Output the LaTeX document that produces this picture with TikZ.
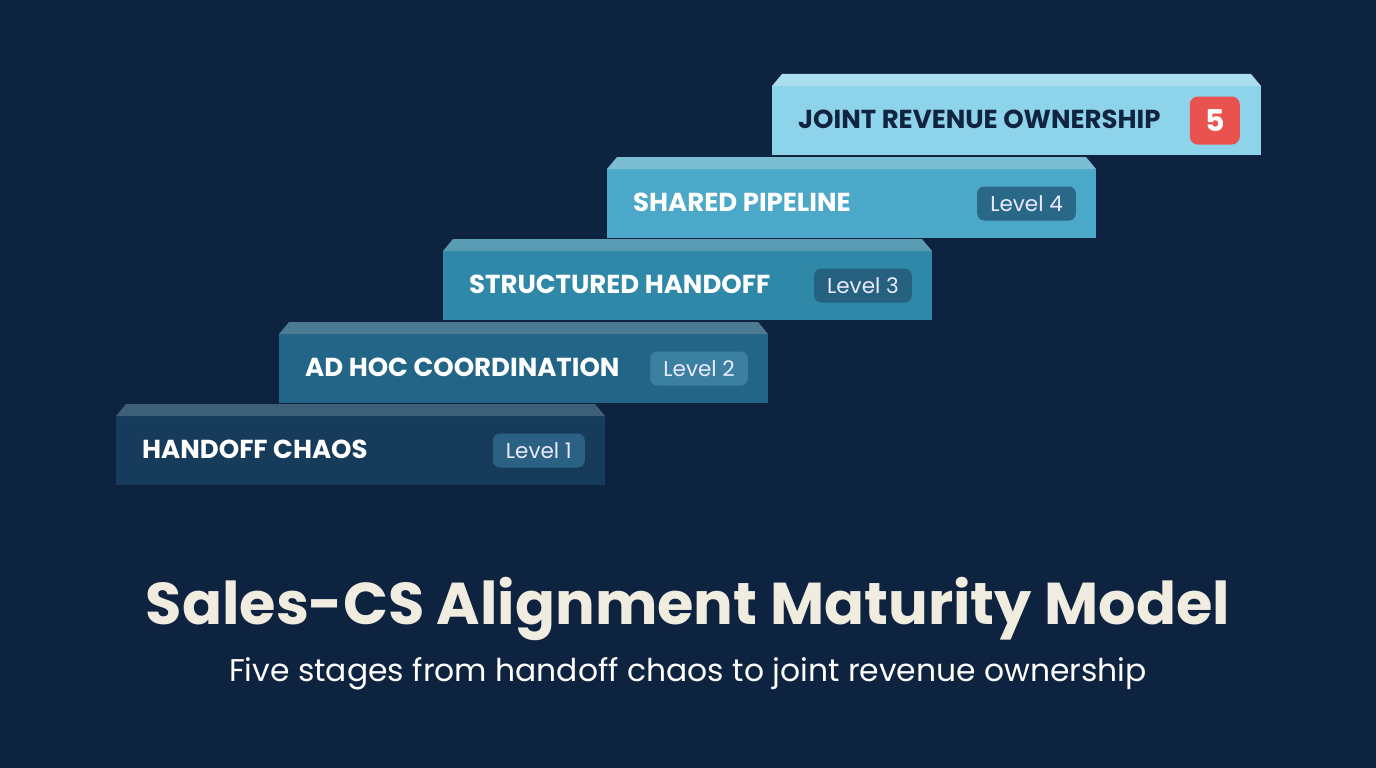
\documentclass[tikz,border=0pt]{standalone}
\usepackage{fontspec}
\setmainfont{Poppins}
\definecolor{bg}{HTML}{0E2340}
\definecolor{fa}{HTML}{173B5B}\definecolor{ta}{HTML}{3E5F78}\definecolor{ba}{HTML}{2B6182}
\definecolor{fb}{HTML}{236587}\definecolor{tb}{HTML}{4B7B93}\definecolor{bb}{HTML}{3B80A0}
\definecolor{fc}{HTML}{2F88A8}\definecolor{tc}{HTML}{5A9CB3}\definecolor{bc}{HTML}{26617F}
\definecolor{fd}{HTML}{4CA8C8}\definecolor{td}{HTML}{7BBDD3}\definecolor{bd}{HTML}{2A6888}
\definecolor{fe}{HTML}{8DD3EA}\definecolor{te}{HTML}{ABDFF0}
\definecolor{redb}{HTML}{E8524F}
\definecolor{navy}{HTML}{10233F}
\definecolor{cream}{HTML}{F1ECE0}
\tikzset{
  front/.style={rectangle, minimum width=489pt, minimum height=69pt, inner sep=0pt, outer sep=0pt},
  steplabel/.style={anchor=west, font=\bfseries\fontsize{26}{30}\selectfont, inner sep=0pt},
  levelbadge/.style={anchor=east, rounded corners=7pt, minimum height=34pt, inner xsep=13pt, inner ysep=0pt, text=white!92!blue, font=\fontsize{21.5}{24}\selectfont},
}
\newcommand\stairstep[8]{%
  \node[front, fill=#4] (#1) at (#2+244.5, #3+34.5) {};
  \fill[#5] (#1.north west) -- ([xshift=10pt,yshift=12pt]#1.north west) -- ([xshift=-10pt,yshift=12pt]#1.north east) -- (#1.north east) -- cycle;
  \node[steplabel, text=#6] (#1t) at ([xshift=26pt,yshift=1pt]#1.west) {#7};
  #8
}
\begin{document}
\begin{tikzpicture}[x=1pt,y=-1pt]
\fill[bg] (0,0) rectangle (1376,768);
\useasboundingbox (0,0) rectangle (1376,768);
\stairstep{s5}{772}{86}{fe}{te}{navy}{JOINT REVENUE OWNERSHIP}{%
  \node[anchor=east, fill=redb, rounded corners=8pt, minimum width=50pt, minimum height=48pt, inner sep=0pt, text=white, font=\bfseries\fontsize{30}{32}\selectfont] (s5b) at ([xshift=-21pt]s5.east) {5};}
\stairstep{s4}{607}{169}{fd}{td}{white}{SHARED PIPELINE}{%
  \node[levelbadge, fill=bd] (s4b) at ([xshift=-20pt]s4.east) {Level 4};}
\stairstep{s3}{443}{251}{fc}{tc}{white}{STRUCTURED HANDOFF}{%
  \node[levelbadge, fill=bc] (s3b) at ([xshift=-20pt]s3.east) {Level 3};}
\stairstep{s2}{279}{334}{fb}{tb}{white}{AD HOC COORDINATION}{%
  \node[levelbadge, fill=bb] (s2b) at ([xshift=-20pt]s2.east) {Level 2};}
\stairstep{s1}{116}{416}{fa}{ta}{white}{HANDOFF CHAOS}{%
  \node[levelbadge, fill=ba] (s1b) at ([xshift=-20pt]s1.east) {Level 1};}
\node[text=cream, font=\bfseries\fontsize{59}{64}\selectfont, inner sep=0pt] (title) at (688,609) {Sales-CS Alignment Maturity Model};
\node[text=white!90!cream, font=\fontsize{31.4}{36}\selectfont, inner sep=0pt] (sub) at (688,674) {Five stages from handoff chaos to joint revenue ownership};
\end{tikzpicture}
\end{document}
